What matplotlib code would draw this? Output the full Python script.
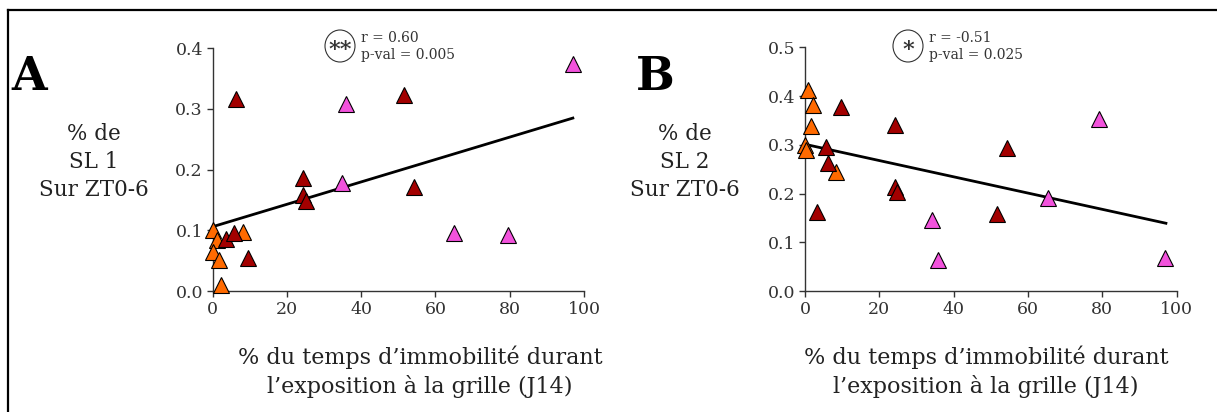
import numpy as np
import matplotlib.pyplot as plt
from matplotlib.patches import Ellipse

plt.rcParams['font.family'] = ['DejaVu Serif']

# Panel A : % SL 1 vs % immobility
a_red_x = [6.3, 51.6, 24.3, 24.3, 25.1, 54.2, 3.5, 5.8, 9.6]
a_red_y = [0.316, 0.323, 0.186, 0.158, 0.148, 0.172, 0.085, 0.095, 0.054]
a_pink_x = [97.1, 35.9, 34.8, 64.9, 79.4]
a_pink_y = [0.374, 0.309, 0.178, 0.095, 0.092]
a_orange_x = [0.0, 8.1, 1.1, 0.0, 1.8, 2.2]
a_orange_y = [0.100, 0.098, 0.084, 0.065, 0.051, 0.010]

# Panel B : % SL 2 vs % immobility
b_red_x = [9.7, 24.2, 5.6, 6.3, 24.1, 24.7, 3.1, 51.6, 54.3]
b_red_y = [0.377, 0.341, 0.296, 0.262, 0.214, 0.204, 0.163, 0.159, 0.293]
b_pink_x = [79.2, 65.3, 34.1, 35.9, 96.9]
b_pink_y = [0.352, 0.190, 0.146, 0.064, 0.067]
b_orange_x = [0.7, 2.2, 1.6, 0.0, 0.3, 8.3]
b_orange_y = [0.412, 0.382, 0.339, 0.300, 0.289, 0.245]

# regression lines (x range, y at ends)
a_fit_x = [0.0, 97.0]
a_fit_y = [0.106, 0.285]
b_fit_x = [0.0, 97.1]
b_fit_y = [0.301, 0.139]

red = '#a30000'
pink = '#f252dc'
orange = '#ff6a00'

W, H = 1217, 412
fig = plt.figure(figsize=(W / 100, H / 100), dpi=100)


def px(x, y):
    return x / W, 1 - y / H


def panel(rect, red_x, red_y, pink_x, pink_y, orange_x, orange_y, fit_x, fit_y, ymax):
    ax = fig.add_axes(rect)
    ax.plot(fit_x, fit_y, color='black', lw=2, zorder=2)
    for xs, ys, c in [(orange_x, orange_y, orange), (red_x, red_y, red), (pink_x, pink_y, pink)]:
        ax.plot(xs, ys, '^', ms=12, mfc=c, mec='black', mew=0.8, ls='none', zorder=3, clip_on=False)
    ax.set_xlim(0, 100)
    ax.set_ylim(0, ymax)
    ax.set_xticks([0, 20, 40, 60, 80, 100])
    ax.set_yticks(np.arange(0, ymax + 0.01, 0.1))
    ax.set_yticklabels([f'{v:.1f}' for v in np.arange(0, ymax + 0.01, 0.1)])
    for s in ['top', 'right']:
        ax.spines[s].set_visible(False)
    for s in ['left', 'bottom']:
        ax.spines[s].set_color('#333333')
        ax.spines[s].set_linewidth(1)
    ax.tick_params(direction='out', length=4, width=1, color='#333333',
                   labelcolor='#333333', labelsize=12.5, pad=3)
    return ax


ax1 = panel([212.7 / W, 121 / H, 371.3 / W, 242.7 / H],
            a_red_x, a_red_y, a_pink_x, a_pink_y, a_orange_x, a_orange_y, a_fit_x, a_fit_y, 0.4)
ax2 = panel([805 / W, 121 / H, 371.7 / W, 243.7 / H],
            b_red_x, b_red_y, b_pink_x, b_pink_y, b_orange_x, b_orange_y, b_fit_x, b_fit_y, 0.5)

# panel letters
fig.text(*px(11, 90), 'A', fontsize=33, fontweight='bold', ha='left', va='baseline')
fig.text(*px(636, 90), 'B', fontsize=33, fontweight='bold', ha='left', va='baseline')

# y labels
fig.text(*px(94, 162), '% de\nSL 1\nSur ZT0-6', fontsize=15.5, ha='center', va='center',
         linespacing=1.38, color='#222222')
fig.text(*px(685, 162), '% de\nSL 2\nSur ZT0-6', fontsize=15.5, ha='center', va='center',
         linespacing=1.38, color='#222222')

# x labels
for cx in [420, 986]:
    fig.text(*px(cx, 357), '% du temps d\u2019immobilité durant', fontsize=16,
             ha='center', va='center', color='#222222')
    fig.text(*px(cx, 386), 'l\u2019exposition à la grille (J14)', fontsize=16,
             ha='center', va='center', color='#222222')

# significance annotations
for cx, stars, r, p in [(340, '**', 'r = 0.60', 'p-val = 0.005'),
                        (908, '*', 'r = -0.51', 'p-val = 0.025')]:
    fig.patches.append(Ellipse(px(cx, 46), 30 / W, 32 / H, transform=fig.transFigure,
                               fill=False, ec='#333333', lw=0.8))
    fig.text(*px(cx, 50), stars, fontsize=16, fontweight='bold', ha='center', va='center',
             color='#333333')
    fig.text(*px(cx + 21, 38), r, fontsize=10, ha='left', va='center', color='#333333')
    fig.text(*px(cx + 21, 55), p, fontsize=10, ha='left', va='center', color='#333333')

# frame lines (top and left)
fig.add_artist(plt.Line2D([8 / W, 1], [1 - 10 / H, 1 - 10 / H], transform=fig.transFigure,
                          color='black', lw=1.6))
fig.add_artist(plt.Line2D([8 / W, 8 / W], [0, 1 - 10 / H], transform=fig.transFigure,
                          color='black', lw=1.6))

plt.savefig('out.png', dpi=100)
